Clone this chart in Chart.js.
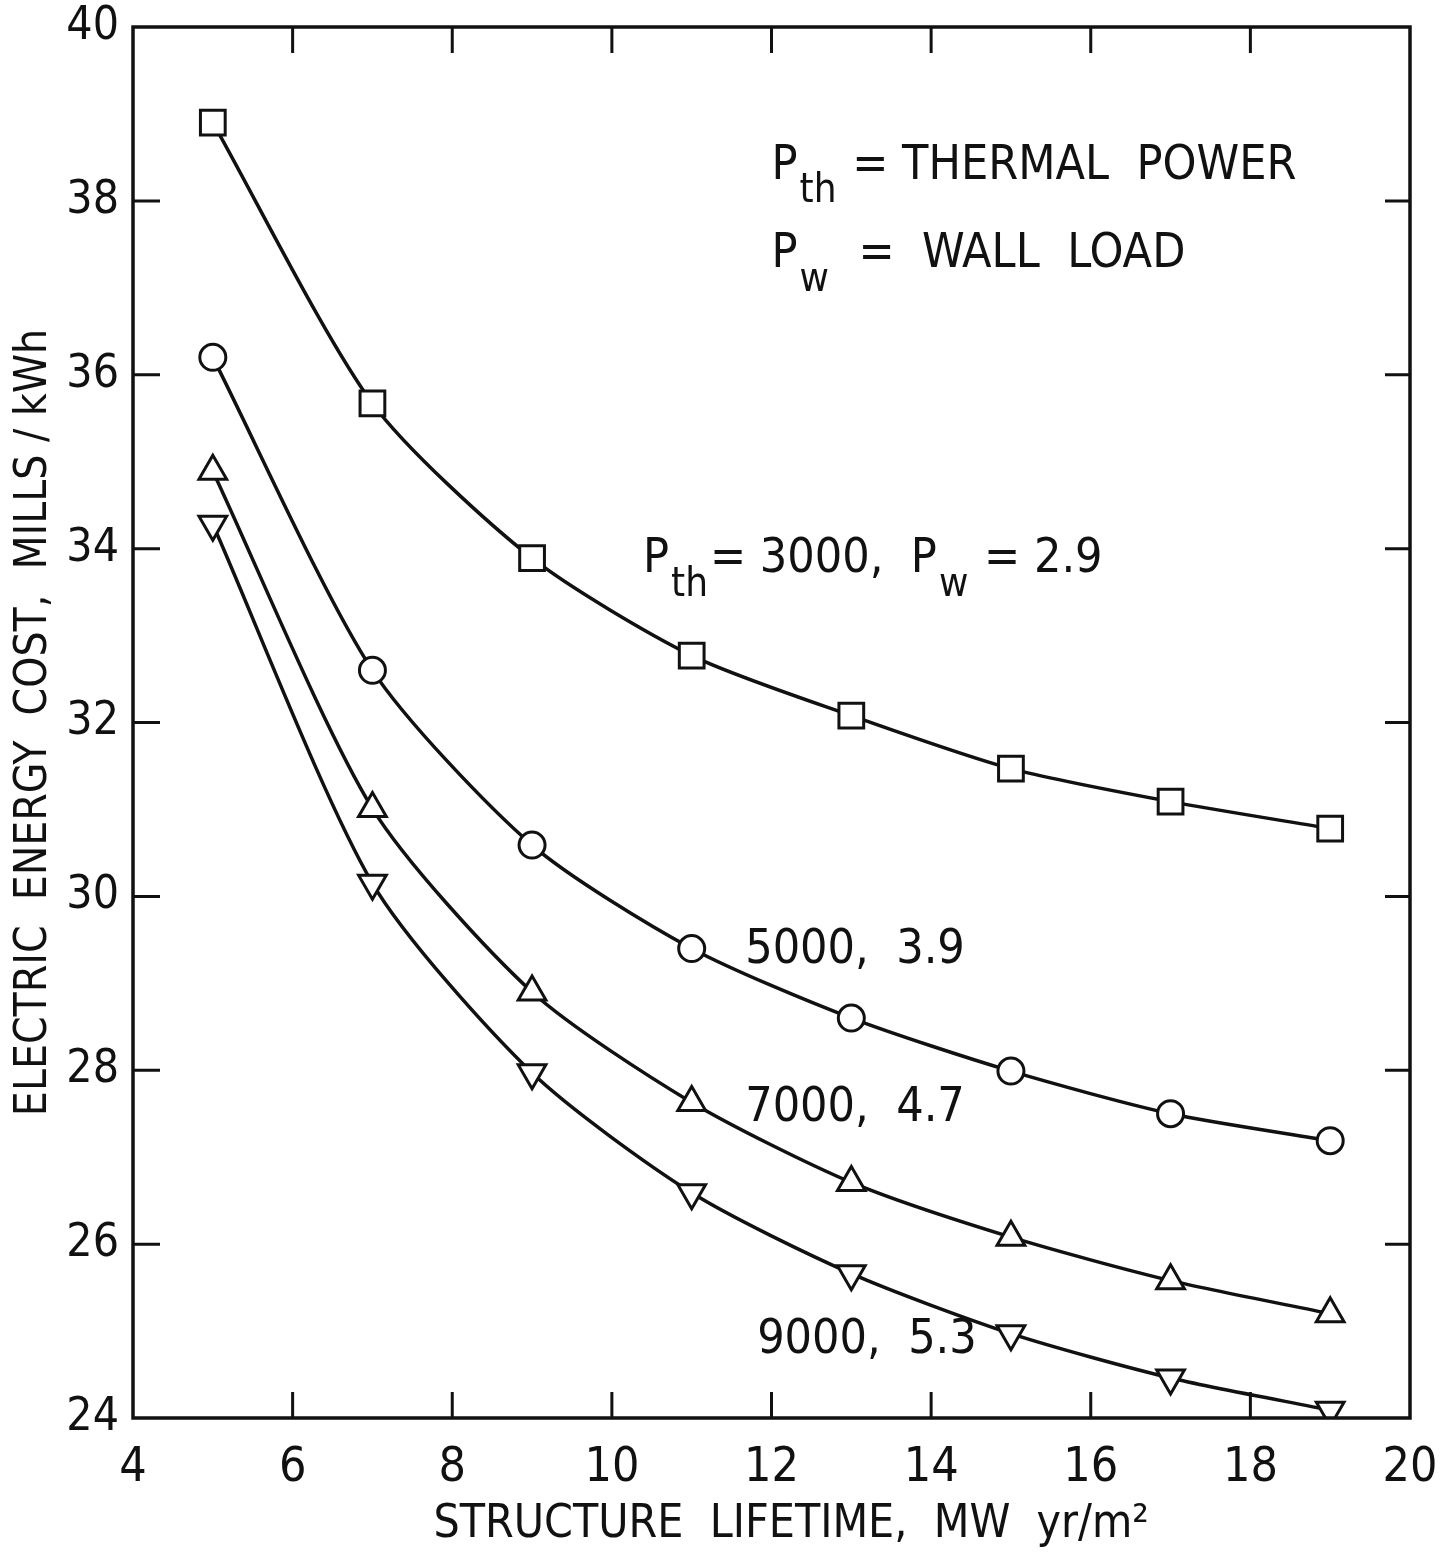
<!DOCTYPE html>
<html>
<head>
<meta charset="utf-8">
<script src="https://cdn.jsdelivr.net/npm/chart.js@4"></script>
<style>
  html, body { margin: 0; padding: 0; background: #fff; }
  #wrap { width: 1451px; height: 1553px; }
</style>
</head>
<body>
<div id="wrap"><canvas id="cost-chart"></canvas></div>
<script>
// --- DATA ---
const lifetimes = [5, 7, 9, 11, 13, 15, 17, 19];
const cost3000 = [38.9, 35.67, 33.89, 32.77, 32.08, 31.47, 31.09, 30.78];
const cost5000 = [36.2, 32.6, 30.59, 29.4, 28.6, 27.99, 27.5, 27.19];
const cost7000 = [34.89, 31.01, 28.9, 27.63, 26.71, 26.08, 25.58, 25.2];
const cost9000 = [34.28, 30.15, 27.97, 26.59, 25.66, 24.97, 24.46, 24.09];
const xTicks = [4, 6, 8, 10, 12, 14, 16, 18, 20];
const yTicks = [24, 26, 28, 30, 32, 34, 36, 38, 40];

const FONT = "'DejaVu Sans Condensed', 'Liberation Sans Narrow', sans-serif";
const INK = '#111';

function toPoints(ys) {
    return lifetimes.map((x, i) => ({ x: x, y: ys[i] }));
}

function curve(ys, style, radius, rotation) {
    return {
        data: toPoints(ys),
        borderColor: INK,
        borderWidth: 3.5,
        pointStyle: style,
        pointRadius: radius,
        pointRotation: rotation || 0,
        pointBorderWidth: 3,
        pointBorderColor: INK,
        pointBackgroundColor: '#fff',
        tension: 0.25,
        fill: false
    };
}

// no extra room for tick labels that overhang the plot edges
function noOverhang(s) {
    s.paddingLeft = 0;
    s.paddingRight = 0;
    s.paddingTop = 0;
    s.paddingBottom = 0;
}

// --- TEXT LABELS INSIDE THE PLOT (data coordinates) ---
// each part: [text, 'n' normal | 's' subscript]
const notes = [
    { x: 12.0, y: 38.4, parts: [['P', 'n'], ['th', 's'], [' = THERMAL  POWER', 'n']] },
    { x: 12.0, y: 37.38, parts: [['P', 'n'], ['w', 's'], ['  =  WALL  LOAD', 'n']] },
    { x: 10.39, y: 33.87, parts: [['P', 'n'], ['th', 's'], ['= 3000,  P', 'n'], ['w', 's'], [' = 2.9', 'n']] },
    { x: 11.67, y: 29.38, parts: [['5000,  3.9', 'n']] },
    { x: 11.67, y: 27.56, parts: [['7000,  4.7', 'n']] },
    { x: 11.82, y: 24.89, parts: [['9000,  5.3', 'n']] }
];

const framePlugin = {
    id: 'frame',
    afterDraw(chart) {
        const { ctx, chartArea: a, scales } = chart;
        ctx.save();
        ctx.strokeStyle = INK;
        ctx.lineWidth = 3.5;
        ctx.strokeRect(a.left, a.top, a.right - a.left, a.bottom - a.top);

        // inward ticks on all four sides
        ctx.lineWidth = 3;
        ctx.beginPath();
        xTicks.slice(1, -1).forEach(v => {
            const px = scales.x.getPixelForValue(v);
            ctx.moveTo(px, a.bottom); ctx.lineTo(px, a.bottom - 26);
            ctx.moveTo(px, a.top); ctx.lineTo(px, a.top + 26);
        });
        yTicks.slice(1, -1).forEach(v => {
            const py = scales.y.getPixelForValue(v);
            ctx.moveTo(a.left, py); ctx.lineTo(a.left + 27, py);
            ctx.moveTo(a.right, py); ctx.lineTo(a.right - 25, py);
        });
        ctx.stroke();

        // annotations
        ctx.fillStyle = INK;
        ctx.textBaseline = 'middle';
        ctx.textAlign = 'left';
        notes.forEach(n => {
            let px = scales.x.getPixelForValue(n.x);
            const py = scales.y.getPixelForValue(n.y);
            n.parts.forEach(([txt, kind]) => {
                if (kind === 's') {
                    ctx.font = '40px ' + FONT;
                    ctx.fillText(txt, px + 2, py + 26);
                    px += ctx.measureText(txt).width + 4;
                } else {
                    ctx.font = '48px ' + FONT;
                    ctx.fillText(txt, px, py);
                    px += ctx.measureText(txt).width;
                }
            });
        });
        ctx.restore();
    }
};

// --- CHART ---
new Chart(document.getElementById('cost-chart'), {
    type: 'line',
    data: {
        datasets: [
            curve(cost3000, 'rect', 17.5),
            curve(cost5000, 'circle', 13),
            curve(cost7000, 'triangle', 16),
            curve(cost9000, 'triangle', 16, 180)
        ]
    },
    options: {
        responsive: true,
        maintainAspectRatio: false,
        animation: false,
        layout: { padding: { top: 27, right: 41, bottom: 0, left: 0 } },
        plugins: {
            legend: { display: false },
            tooltip: { enabled: false }
        },
        scales: {
            x: {
                type: 'linear',
                min: 4,
                max: 20,
                afterBuildTicks: s => { s.ticks = xTicks.map(v => ({ value: v })); },
                afterFit: s => { s.height = 135; noOverhang(s); },
                grid: { display: false, drawTicks: false },
                border: { display: false },
                ticks: {
                    color: INK,
                    padding: 22,
                    maxRotation: 0,
                    font: { family: FONT, size: 48 }
                },
                title: {
                    display: true,
                    text: '   STRUCTURE  LIFETIME,  MW  yr/m²',
                    color: INK,
                    padding: { top: 0, bottom: 0 },
                    font: { family: FONT, size: 46 }
                }
            },
            y: {
                type: 'linear',
                min: 24,
                max: 40,
                afterBuildTicks: s => { s.ticks = yTicks.map(v => ({ value: v })); },
                afterFit: s => { s.width = 133; noOverhang(s); },
                grid: { display: false, drawTicks: false },
                border: { display: false },
                ticks: {
                    color: INK,
                    padding: 14,
                    font: { family: FONT, size: 46 }
                },
                title: {
                    display: true,
                    text: 'ELECTRIC  ENERGY  COST,  MILLS / kWh',
                    color: INK,
                    padding: { top: 8, bottom: 0 },
                    font: { family: FONT, size: 44 }
                }
            }
        }
    },
    plugins: [framePlugin]
});
</script>
</body>
</html>
